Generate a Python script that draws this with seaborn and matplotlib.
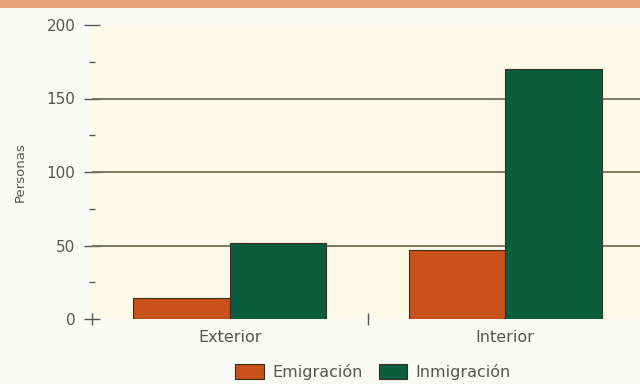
import matplotlib
matplotlib.use("Agg")
import matplotlib.pyplot as plt
import seaborn as sns
import pandas as pd
from matplotlib.patches import Rectangle
from matplotlib.ticker import MultipleLocator, FixedLocator

categories = ["Exterior", "Interior"]
series_names = ["Emigración", "Inmigración"]
emigracion = [14, 47]
inmigracion = [52, 170]
y_ticks = [0, 50, 100, 150, 200]

df = pd.DataFrame({
    "Zona": categories * 2,
    "Tipo": [series_names[0]] * len(categories) + [series_names[1]] * len(categories),
    "Personas": emigracion + inmigracion,
})

sns.set_theme(style="white")
plt.rcParams["font.family"] = ["DejaVu Sans"]

fig = plt.figure(figsize=(6.4, 3.84), dpi=100, facecolor="#fbfbf6")
ax = fig.add_axes([92 / 640, 1 - 319 / 384, 551 / 640, 294 / 384])
ax.set_facecolor("#fdfbe8")

palette = {series_names[0]: "#c9521b", series_names[1]: "#0a5e3f"}
sns.barplot(data=df, x="Zona", y="Personas", hue="Tipo", order=categories,
            hue_order=series_names, palette=palette, width=0.7, gap=0,
            edgecolor="#3a2a1a", linewidth=0.8, saturation=1, ax=ax, legend=True,
            zorder=3)

ax.set_ylim(0, 200)
ax.set_xlim(-0.5, 1.5)
for s in ax.spines.values():
    s.set_visible(False)

ax.yaxis.set_major_locator(FixedLocator(y_ticks))
ax.yaxis.set_minor_locator(MultipleLocator(25))
for v in y_ticks[1:-1]:
    ax.axhline(v, color="#747055", lw=1.3, zorder=2)

ax.tick_params(axis="y", which="major", direction="inout", length=12, width=1,
               color="#555555", labelsize=11, labelcolor="#555555", pad=6, left=True)
ax.tick_params(axis="y", which="minor", direction="inout", length=4, width=1,
               color="#555555", left=True)

ax.xaxis.set_major_locator(FixedLocator([-0.5, 0.5, 1.5]))
ax.xaxis.set_minor_locator(FixedLocator([0, 1]))
ax.set_xticklabels(["", "", ""])
ax.set_xticklabels(categories, minor=True)
ax.tick_params(axis="x", which="major", direction="inout", length=9, width=1,
               color="#555555", bottom=True)
ax.tick_params(axis="x", which="minor", length=0, labelsize=11.5,
               labelcolor="#555555", pad=8)

ax.set_xlabel("")
ax.set_ylabel("Personas", fontsize=9.5, color="#555555", labelpad=14)

handles, labels = ax.get_legend_handles_labels()
ax.get_legend().remove()
fig.legend(handles, labels, loc="center", bbox_to_anchor=(373 / 640, 12 / 384),
           ncol=2, frameon=False, fontsize=11.5, handlelength=1.8, handleheight=1.0,
           columnspacing=1.0, handletextpad=0.5, labelcolor="#555555")

fig.patches.append(Rectangle((0, 1 - 8 / 384), 1, 8 / 384, transform=fig.transFigure,
                             facecolor="#e6a47c", edgecolor="none", zorder=0))

fig.savefig("out.png", dpi=100, facecolor=fig.get_facecolor())
